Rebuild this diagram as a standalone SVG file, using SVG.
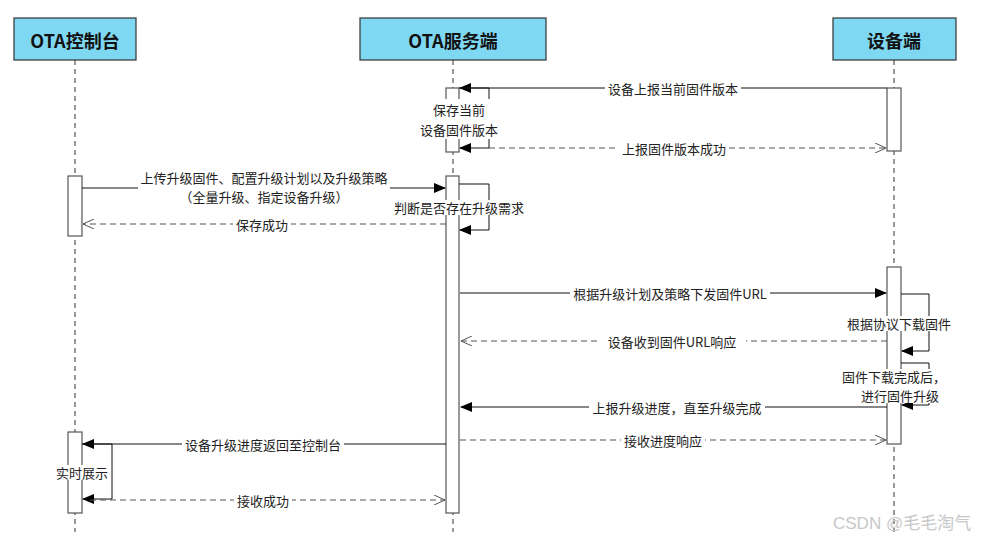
<svg xmlns="http://www.w3.org/2000/svg" width="985" height="540" viewBox="0 0 985 540">
<defs>
<style>
.hdr{fill:#7fd8f2;stroke:#333;stroke-width:1.2}
.htx{font-family:"Noto Sans CJK SC","Noto Sans",sans-serif;font-weight:bold;font-size:18px;fill:#111;text-anchor:middle;dominant-baseline:central}
.life{stroke:#333;stroke-width:1;stroke-dasharray:5 4;fill:none}
.act{fill:#fff;stroke:#555;stroke-width:1.2}
.msg{stroke:#111;stroke-width:1;fill:none}
.ret{stroke:#555;stroke-width:1;stroke-dasharray:6 4;fill:none}
.lbl{font-family:"Noto Sans CJK SC","Noto Sans",sans-serif;font-size:13px;fill:#222;text-anchor:middle;dominant-baseline:central}
.bg{fill:#fff;stroke:none}
.wm{font-family:"Liberation Sans","Noto Sans CJK SC",sans-serif;font-size:17px;fill:#c8c8c8}
</style>
<marker id="fill" markerWidth="12" markerHeight="10" refX="11" refY="5" orient="auto" markerUnits="userSpaceOnUse">
<path d="M0,0 L12,5 L0,10 Z" fill="#000"/>
</marker>
<marker id="open" markerWidth="12" markerHeight="10" refX="11" refY="5" orient="auto" markerUnits="userSpaceOnUse">
<path d="M0,0 L11,5 L0,10" fill="none" stroke="#555" stroke-width="1"/>
</marker>
</defs>
<rect width="985" height="540" fill="#fff"/>

<g id="lifelines">
<line class="life" x1="75" y1="60" x2="75" y2="532"/>
<line class="life" x1="453" y1="60" x2="453" y2="532"/>
<line class="life" x1="894" y1="60" x2="894" y2="532"/>
</g>

<g id="node-console">
<rect class="hdr" x="14" y="18" width="122" height="42"/>
<text class="htx" x="75" y="40">OTA控制台</text>
</g>
<g id="node-server">
<rect class="hdr" x="360" y="18" width="186" height="42"/>
<text class="htx" x="453" y="40">OTA服务端</text>
</g>
<g id="node-device">
<rect class="hdr" x="833" y="18" width="123" height="42"/>
<text class="htx" x="894" y="40">设备端</text>
</g>

<g id="activations">
<rect class="act" x="446" y="88" width="13" height="64"/>
<rect class="act" x="887" y="88" width="14" height="63"/>
<rect class="act" x="68" y="176" width="14" height="60"/>
<rect class="act" x="446" y="176" width="13" height="337"/>
<rect class="act" x="887" y="267" width="14" height="177"/>
<rect class="act" x="68" y="432" width="14" height="81"/>
</g>

<g id="connectors">
<line class="msg" x1="887" y1="88" x2="460" y2="88" marker-end="url(#fill)"/>
<polyline class="msg" points="459,88 489,88 489,148 460,148" marker-end="url(#fill)"/>
<line class="ret" x1="489" y1="148" x2="886" y2="148" marker-end="url(#open)"/>
<line class="msg" x1="82" y1="188" x2="445" y2="188" marker-end="url(#fill)"/>
<polyline class="msg" points="459,184 489,184 489,230 460,230" marker-end="url(#fill)"/>
<line class="ret" x1="446" y1="224" x2="83" y2="224" marker-end="url(#open)"/>
<line class="msg" x1="460" y1="293" x2="886" y2="293" marker-end="url(#fill)"/>
<polyline class="msg" points="901,294 929,294 929,351 902,351" marker-end="url(#fill)"/>
<line class="ret" x1="887" y1="341" x2="461" y2="341" marker-end="url(#open)"/>
<polyline class="msg" points="901,363 929,363 929,405 902,405" marker-end="url(#fill)"/>
<line class="msg" x1="887" y1="407" x2="461" y2="407" marker-end="url(#fill)"/>
<line class="ret" x1="460" y1="440" x2="886" y2="440" marker-end="url(#open)"/>
<line class="msg" x1="446" y1="444" x2="83" y2="444" marker-end="url(#fill)"/>
<polyline class="msg" points="82,444 112,444 112,499 83,499" marker-end="url(#fill)"/>
<line class="ret" x1="90" y1="500" x2="445" y2="500" marker-end="url(#open)"/>
</g>

<g id="labels">
<rect class="bg" x="605" y="81" width="136" height="15"/>
<text class="lbl" x="673" y="88">设备上报当前固件版本</text>
<rect class="bg" x="418" y="99" width="82" height="40"/>
<text class="lbl" x="459" y="109">保存当前</text>
<text class="lbl" x="459" y="129">设备固件版本</text>
<rect class="bg" x="619" y="141" width="110" height="15"/>
<text class="lbl" x="674" y="148">上报固件版本成功</text>
<rect class="bg" x="138" y="169" width="252" height="36"/>
<text class="lbl" x="264" y="177">上传升级固件、配置升级计划以及升级策略</text>
<text class="lbl" x="264" y="196">（全量升级、指定设备升级）</text>
<rect class="bg" x="391" y="200" width="136" height="15"/>
<text class="lbl" x="459" y="207">判断是否存在升级需求</text>
<rect class="bg" x="233" y="217" width="58" height="15"/>
<text class="lbl" x="262" y="224">保存成功</text>
<rect class="bg" x="570" y="286" width="200" height="15"/>
<text class="lbl" x="670" y="293">根据升级计划及策略下发固件URL</text>
<rect class="bg" x="844" y="316" width="110" height="15"/>
<text class="lbl" x="899" y="323">根据协议下载固件</text>
<rect class="bg" x="598" y="334" width="148" height="15"/>
<text class="lbl" x="672" y="341">设备收到固件URL响应</text>
<rect class="bg" x="840" y="369" width="108" height="34"/>
<text class="lbl" x="894" y="376">固件下载完成后，</text>
<text class="lbl" x="900" y="395">进行固件升级</text>
<rect class="bg" x="589" y="400" width="176" height="15"/>
<text class="lbl" x="677" y="407">上报升级进度，直至升级完成</text>
<rect class="bg" x="621" y="433" width="84" height="15"/>
<text class="lbl" x="663" y="440">接收进度响应</text>
<rect class="bg" x="182" y="437" width="162" height="15"/>
<text class="lbl" x="263" y="444">设备升级进度返回至控制台</text>
<rect class="bg" x="53" y="465" width="58" height="15"/>
<text class="lbl" x="82" y="472">实时展示</text>
<rect class="bg" x="234" y="493" width="58" height="15"/>
<text class="lbl" x="263" y="500">接收成功</text>
</g>

<text class="wm" x="833" y="529">CSDN @毛毛淘气</text>
</svg>
